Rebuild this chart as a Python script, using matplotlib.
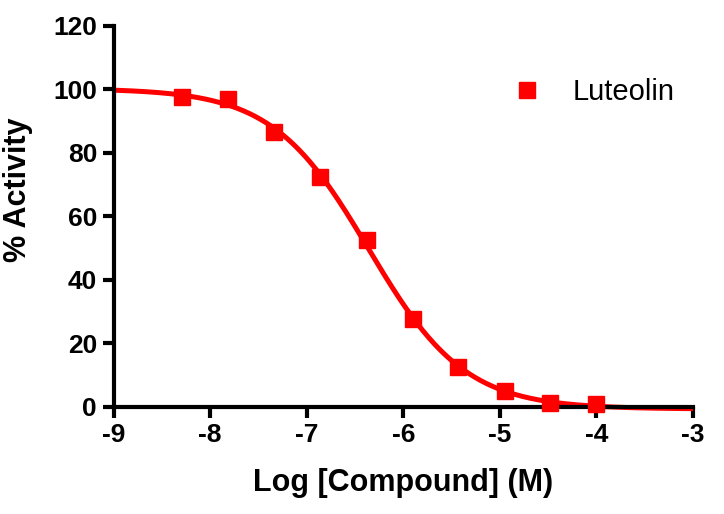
import numpy as np
import matplotlib
matplotlib.use("Agg")
import matplotlib.pyplot as plt

# Data
log_conc = [-8.29, -7.82, -7.34, -6.86, -6.38, -5.90, -5.43, -4.95, -4.48, -4.00]
activity = [97.5, 96.8, 86.4, 72.3, 52.5, 27.5, 12.4, 4.8, 1.0, 0.8]
series_name = "Luteolin"
x_ticks = [-9, -8, -7, -6, -5, -4, -3]
y_ticks = [0, 20, 40, 60, 80, 100, 120]

x = np.array(log_conc)
y = np.array(activity)

# 4-parameter logistic fit (grid over logIC50 & Hill, linear solve for top/bottom)
best = None
for lic in np.linspace(-7.5, -5.5, 201):
    for h in np.linspace(-2.0, -0.3, 171):
        f = 1.0 / (1.0 + 10 ** ((lic - x) * h))
        A = np.vstack([np.ones_like(f), f]).T
        coef, *_ = np.linalg.lstsq(A, y, rcond=None)
        r = np.sum((A @ coef - y) ** 2)
        if best is None or r < best[0]:
            best = (r, lic, h, coef)
_, lic, h, (c0, c1) = best
xf = np.linspace(-9, -3, 400)
yf = c0 + c1 / (1.0 + 10 ** ((lic - xf) * h))

plt.rcParams['font.family'] = ['Liberation Sans', 'DejaVu Sans']
fig = plt.figure(figsize=(7.24, 5.14), dpi=100)
ax = fig.add_axes([0.157, 0.209, 0.800, 0.741])

red = '#ff0000'
ax.plot(xf, yf, color=red, lw=3.6, solid_capstyle='butt', zorder=2, clip_on=False)
ax.plot(x, y, 's', color=red, ms=12, zorder=3, clip_on=False, label=series_name)

ax.set_xlim(-9, -3)
ax.set_ylim(0, 120)
ax.set_xticks(x_ticks)
ax.set_yticks(y_ticks)
ax.set_xticklabels([str(t) for t in x_ticks])
ax.set_yticklabels([str(t) for t in y_ticks])

for s in ['top', 'right']:
    ax.spines[s].set_visible(False)
for s in ['left', 'bottom']:
    ax.spines[s].set_linewidth(3)
ax.tick_params(direction='out', length=8, width=3, labelsize=19, pad=4)
for lab in ax.get_xticklabels() + ax.get_yticklabels():
    lab.set_fontweight('bold')

ax.set_xlabel('Log [Compound] (M)', fontsize=22, fontweight='bold', labelpad=15)
ax.set_ylabel('% Activity', fontsize=22, fontweight='bold')
ax.yaxis.set_label_coords(-0.139, 0.569)

leg = ax.legend(loc='center left', bbox_to_anchor=(512.5 / 724, 1 - 92 / 514),
                bbox_transform=fig.transFigure, borderaxespad=0, borderpad=0,
                frameon=False, fontsize=21, handlelength=1.0, handletextpad=1.05,
                markerscale=1.0, numpoints=1)

fig.savefig('out.png', dpi=100)
